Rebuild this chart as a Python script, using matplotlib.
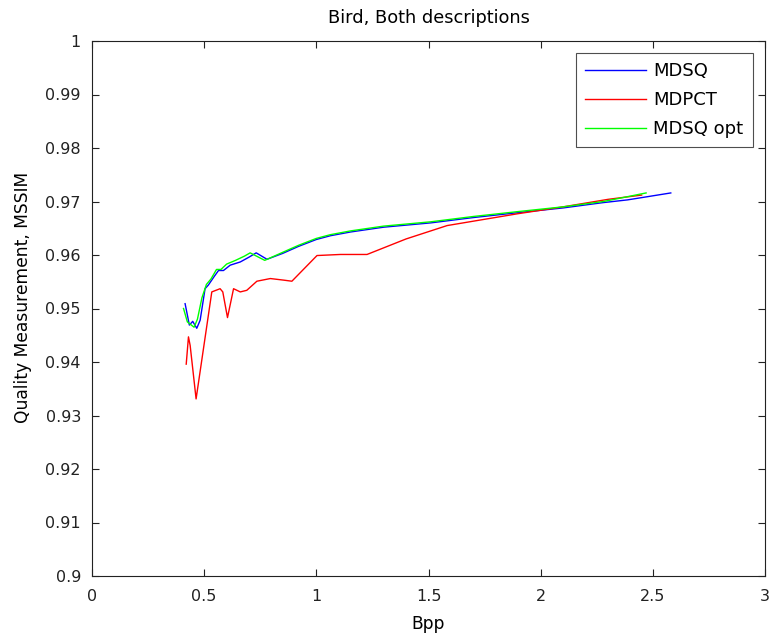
import matplotlib
matplotlib.use("Agg")
import matplotlib.pyplot as plt

plt.rcParams['font.family'] = ['DejaVu Sans']

bpp_mdsq = [0.415, 0.434, 0.449, 0.467, 0.482, 0.504, 0.519, 0.545, 0.564, 0.586, 0.616, 0.661, 0.700, 0.732,
            0.780, 0.85, 0.92, 1.00, 1.0625, 1.152, 1.30, 1.509, 1.70, 1.896, 2.10, 2.28, 2.387, 2.58]
msim_mdsq = [0.9509, 0.9469, 0.9476, 0.9463, 0.9478, 0.9537, 0.9544, 0.9560, 0.9571, 0.9571, 0.9581, 0.9587, 0.9596, 0.9604,
             0.9592, 0.9603, 0.9616, 0.9629, 0.9636, 0.9643, 0.9652, 0.9660, 0.9670, 0.9679, 0.9688, 0.9698, 0.9703, 0.9716]

bpp_opt = [0.408, 0.425, 0.440, 0.455, 0.470, 0.490, 0.510, 0.530, 0.555, 0.575, 0.600, 0.640, 0.680, 0.705,
           0.770, 0.85, 0.92, 1.00, 1.0625, 1.152, 1.30, 1.509, 1.70, 1.896, 2.10, 2.28, 2.47]
msim_opt = [0.9500, 0.9475, 0.9470, 0.9465, 0.9480, 0.9520, 0.9545, 0.9555, 0.9573, 0.9573, 0.9583, 0.9590, 0.9598, 0.9604,
            0.9590, 0.9605, 0.9618, 0.9631, 0.9638, 0.9645, 0.9654, 0.9662, 0.9672, 0.9681, 0.9690, 0.9700, 0.9716]

bpp_mdpct = [0.420, 0.430, 0.4375, 0.464, 0.534, 0.571, 0.583, 0.604, 0.631, 0.661, 0.690, 0.735, 0.795, 0.855,
             0.891, 1.003, 1.107, 1.226, 1.40, 1.583, 1.896, 2.10, 2.30, 2.45]
msim_mdpct = [0.9396, 0.9447, 0.9431, 0.9331, 0.9531, 0.9537, 0.9531, 0.9483, 0.9537, 0.9531, 0.9534, 0.9551, 0.9556, 0.9553,
              0.9551, 0.9599, 0.9601, 0.9601, 0.9630, 0.9655, 0.9677, 0.9690, 0.9704, 0.9712]

x_ticks = [0, 0.5, 1, 1.5, 2, 2.5, 3]
x_ticklabels = ['0', '0.5', '1', '1.5', '2', '2.5', '3']
y_ticks = [0.9, 0.91, 0.92, 0.93, 0.94, 0.95, 0.96, 0.97, 0.98, 0.99, 1.0]
y_ticklabels = ['0.9', '0.91', '0.92', '0.93', '0.94', '0.95', '0.96', '0.97', '0.98', '0.99', '1']

fig = plt.figure(figsize=(7.71, 6.35), dpi=100)
ax = fig.add_axes([92/771, 1 - 576/635, (765 - 92)/771, (576 - 41)/635])

ax.plot(bpp_mdsq, msim_mdsq, color='#0000ff', lw=1.0, label='MDSQ')
ax.plot(bpp_mdpct, msim_mdpct, color='#ff0000', lw=1.0, label='MDPCT')
ax.plot(bpp_opt, msim_opt, color='#00ff00', lw=1.0, label='MDSQ opt')

ax.set_xlim(0, 3)
ax.set_ylim(0.9, 1.0)
ax.set_xticks(x_ticks)
ax.set_xticklabels(x_ticklabels)
ax.set_yticks(y_ticks)
ax.set_yticklabels(y_ticklabels)
ax.tick_params(direction='in', length=5, width=0.8, top=True, right=True, labelsize=11.5, colors='#222222')
ax.tick_params(axis='x', pad=9.5)
ax.tick_params(axis='y', pad=8)
for s in ax.spines.values():
    s.set_linewidth(0.8)
    s.set_color('#222222')

ax.set_title('Bird, Both descriptions', fontsize=12.8, pad=13)
ax.set_xlabel('Bpp', fontsize=12.3, labelpad=7.5)
ax.set_ylabel('Quality Measurement, MSSIM', fontsize=12.3)
ax.yaxis.set_label_coords(-0.089, 0.5215)

leg = ax.legend(loc='upper right', fontsize=13, frameon=True, fancybox=False, edgecolor='#222222',
                handlelength=3.4, handletextpad=0.4, borderpad=0.5, labelspacing=0.6, borderaxespad=0.69)
leg.get_frame().set_linewidth(0.8)

fig.savefig('out.png', dpi=100)
